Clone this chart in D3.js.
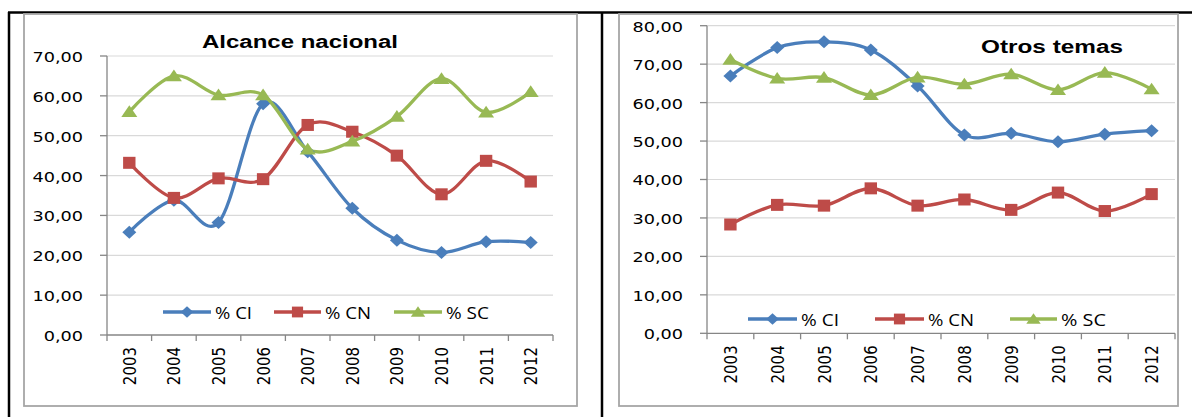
<!DOCTYPE html>
<html>
<head>
<meta charset="utf-8">
<script src="https://cdn.jsdelivr.net/npm/d3@7"></script>
<style>
  body { margin: 0; background: #fff; }
  svg { display: block; }
</style>
</head>
<body>
<svg id="chart" width="1192" height="417"></svg>
<script>
// data
var years = ["2003","2004","2005","2006","2007","2008","2009","2010","2011","2012"];
var seriesNames = ["% CI", "% CN", "% SC"];

var alcanceCI = [25.8, 33.8, 28.2, 58.0, 46.0, 31.8, 23.8, 20.7, 23.4, 23.2];
var alcanceCN = [43.2, 34.4, 39.3, 39.1, 52.7, 51.0, 45.0, 35.3, 43.7, 38.5];
var alcanceSC = [56.0, 65.0, 60.2, 60.2, 46.6, 48.6, 54.8, 64.3, 55.9, 61.0];

var otrosCI = [66.9, 74.3, 75.8, 73.7, 64.3, 51.6, 52.0, 49.8, 51.8, 52.7];
var otrosCN = [28.3, 33.4, 33.2, 37.7, 33.2, 34.8, 32.1, 36.6, 31.8, 36.2];
var otrosSC = [71.2, 66.3, 66.5, 62.0, 66.6, 64.8, 67.4, 63.3, 67.8, 63.5];

var ticksAlcance = [0, 10, 20, 30, 40, 50, 60, 70];
var ticksOtros = [0, 10, 20, 30, 40, 50, 60, 70, 80];

var colors = ["#4A7EBB", "#BE4B48", "#98B954"];
var markers = ["diamond", "square", "triangle"];

var svg = d3.select("#chart");
var fmt = function(v){ return d3.format(".2f")(v).replace(".", ","); };
var tickFont = "'DejaVu Sans', Verdana, sans-serif";
var labelFont = "'Open Sans', 'Liberation Sans', sans-serif";
var stretch = 1.22;

// outer table borders
svg.append("line").attr("x1", 8).attr("x2", 1192).attr("y1", 12.5).attr("y2", 12.5)
  .attr("stroke", "#000").attr("stroke-width", 2.5);
svg.append("line").attr("x1", 9).attr("x2", 9).attr("y1", 12).attr("y2", 417)
  .attr("stroke", "#000").attr("stroke-width", 2.5);
svg.append("line").attr("x1", 602).attr("x2", 602).attr("y1", 12).attr("y2", 417)
  .attr("stroke", "#000").attr("stroke-width", 2.5);

function markerPath(type, s) {
  if (type == "diamond")
    return "M0," + (-6.5*s) + "L" + (7*s) + ",0L0," + (6.5*s) + "L" + (-7*s) + ",0Z";
  if (type == "square")
    return "M" + (-6.2*s) + "," + (-6*s) + "h" + (12.4*s) + "v" + (12*s) + "h" + (-12.4*s) + "Z";
  return "M0," + (-6.5*s) + "L" + (8*s) + "," + (5.2*s) + "L" + (-8*s) + "," + (5.2*s) + "Z";
}

function drawPanel(p) {
  var g = svg.append("g");

  // chart frame
  g.append("rect")
    .attr("x", p.frame[0]).attr("y", p.frame[1])
    .attr("width", p.frame[2] - p.frame[0]).attr("height", p.frame[3] - p.frame[1])
    .attr("fill", "#fff").attr("stroke", "#A6A6A6").attr("stroke-width", 1.8);

  var x = d3.scaleBand().domain(years).range([p.left, p.right]).paddingInner(0).paddingOuter(0);
  var y = d3.scaleLinear().domain([0, p.max]).range([p.bottom, p.top]);

  // gridlines
  g.selectAll("line.grid")
    .data(p.ticks.filter(function(d){ return d > 0; }))
    .enter().append("line")
    .attr("class", "grid")
    .attr("x1", p.left).attr("x2", p.right)
    .attr("y1", function(d){ return y(d); }).attr("y2", function(d){ return y(d); })
    .attr("stroke", "#D9D9D9").attr("stroke-width", 1.2);

  // y axis
  g.append("line").attr("x1", p.left).attr("x2", p.left).attr("y1", y(p.max)).attr("y2", p.bottom)
    .attr("stroke", "#868686").attr("stroke-width", 1.3);
  g.selectAll("line.ytick")
    .data(p.ticks).enter().append("line")
    .attr("x1", p.left - 7).attr("x2", p.left)
    .attr("y1", function(d){ return y(d); }).attr("y2", function(d){ return y(d); })
    .attr("stroke", "#868686").attr("stroke-width", 1.3);
  g.selectAll("text.ylab")
    .data(p.ticks).enter().append("text")
    .attr("transform", function(d){ return "translate(" + (p.left - 24) + "," + (y(d) + 1) + ") scale(" + stretch + ",1)"; })
    .attr("text-anchor", "end")
    .attr("dominant-baseline", "central")
    .style("font", "14.5px " + tickFont)
    .style("fill", "#000")
    .text(fmt);

  // x axis
  g.append("line").attr("x1", p.left).attr("x2", p.right).attr("y1", p.bottom).attr("y2", p.bottom)
    .attr("stroke", "#868686").attr("stroke-width", 1.3);
  var bounds = years.map(function(d){ return x(d); }).concat([p.right]);
  g.selectAll("line.xtick")
    .data(bounds).enter().append("line")
    .attr("x1", function(d){ return d; }).attr("x2", function(d){ return d; })
    .attr("y1", p.bottom).attr("y2", p.bottom + 6)
    .attr("stroke", "#868686").attr("stroke-width", 1.3);
  g.selectAll("text.xlab")
    .data(years).enter().append("text")
    .attr("transform", function(d){
      return "translate(" + (x(d) + x.bandwidth()/2) + "," + (p.bottom + 12) + ") scale(" + stretch + ",1) rotate(-90)";
    })
    .attr("text-anchor", "end")
    .attr("dominant-baseline", "central")
    .style("font", "15px " + tickFont)
    .style("fill", "#000")
    .text(function(d){ return d; });

  // title
  g.append("text")
    .attr("x", p.titleX).attr("y", p.titleY)
    .attr("textLength", p.titleW).attr("lengthAdjust", "spacingAndGlyphs")
    .style("font", "bold 18px 'Liberation Sans', Arial, sans-serif")
    .style("fill", "#000")
    .text(p.title);

  // lines and markers
  var line = d3.line()
    .x(function(d, i){ return x(years[i]) + x.bandwidth()/2; })
    .y(function(d){ return y(d); })
    .curve(d3.curveCardinal.tension(0));

  p.series.forEach(function(vals, k){
    g.append("path")
      .datum(vals)
      .attr("d", line)
      .attr("fill", "none")
      .attr("stroke", colors[k])
      .attr("stroke-width", 3.3)
      .attr("stroke-linejoin", "round");
  });
  p.series.forEach(function(vals, k){
    g.selectAll(null)
      .data(vals).enter().append("path")
      .attr("transform", function(d, i){ return "translate(" + (x(years[i]) + x.bandwidth()/2) + "," + y(d) + ")"; })
      .attr("d", markerPath(markers[k], 1))
      .attr("fill", colors[k]);
  });

  // legend
  p.legend.forEach(function(l, k){
    var lg = g.append("g");
    lg.append("line")
      .attr("x1", l.x1).attr("x2", l.x2).attr("y1", p.legendY).attr("y2", p.legendY)
      .attr("stroke", colors[k]).attr("stroke-width", 3.3);
    lg.append("path")
      .attr("transform", "translate(" + ((l.x1 + l.x2)/2) + "," + p.legendY + ")")
      .attr("d", markerPath(markers[k], 0.9))
      .attr("fill", colors[k]);
    lg.append("text")
      .attr("x", l.x2 + 4).attr("y", p.legendY + 0.5)
      .attr("dominant-baseline", "central")
      .attr("textLength", l.w).attr("lengthAdjust", "spacingAndGlyphs")
      .style("font", "16.5px " + labelFont)
      .style("fill", "#000")
      .text(seriesNames[k]);
  });
}

drawPanel({
  frame: [24, 14, 577, 406],
  left: 107, right: 553, top: 56, bottom: 335, max: 70,
  ticks: ticksAlcance,
  series: [alcanceCI, alcanceCN, alcanceSC],
  title: "Alcance nacional", titleX: 202, titleY: 48, titleW: 196,
  legendY: 312,
  legend: [{x1: 163, x2: 211, w: 37}, {x1: 274, x2: 321, w: 46}, {x1: 394, x2: 442, w: 43}]
});

drawPanel({
  frame: [619, 14, 1178, 406],
  left: 707, right: 1175, top: 25.7, bottom: 333.3, max: 80,
  ticks: ticksOtros,
  series: [otrosCI, otrosCN, otrosSC],
  title: "Otros temas", titleX: 981, titleY: 53, titleW: 142,
  legendY: 319,
  legend: [{x1: 748, x2: 797, w: 38}, {x1: 875, x2: 924, w: 46}, {x1: 1010, x2: 1057, w: 45}]
});
</script>
</body>
</html>
